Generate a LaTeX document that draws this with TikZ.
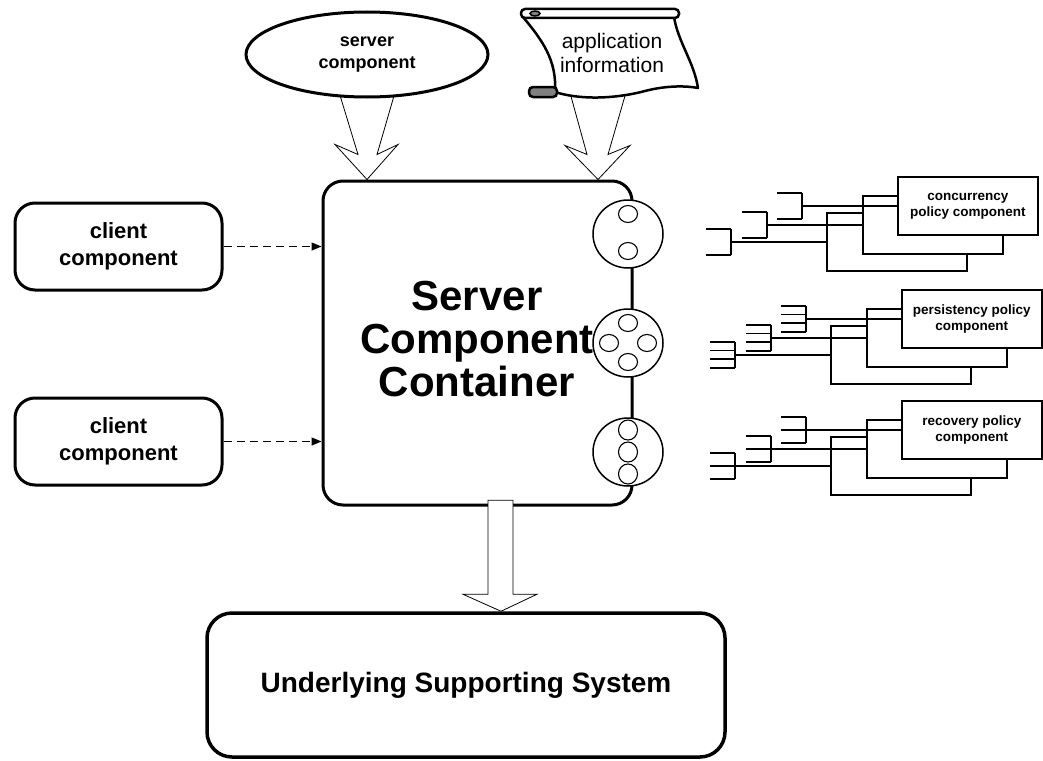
\documentclass[tikz,border=0pt]{standalone}
\usepackage{fontspec}
\setmainfont{Liberation Sans}
\usetikzlibrary{arrows.meta,shapes.geometric,backgrounds}

\tikzset{
  fatbox/.style={draw, line width=3pt, rounded corners=20pt, fill=white, inner sep=0pt, align=center},
  polbox/.style={draw, line width=1.6pt, fill=white, minimum width=140pt, minimum height=58pt, inner sep=0pt, align=center, font=\fontsize{13.5}{16}\selectfont\bfseries},
  hollow/.style={draw, line width=0.8pt, fill=white, line join=miter},
  port/.style={draw, ellipse, line width=1.5pt, fill=white, minimum width=70pt, minimum height=68pt, inner sep=0pt},
  hole/.style={line width=1.1pt},
  calls/.style={dash pattern=on 8pt off 5pt, line width=1.2pt, -{Triangle[length=10pt,width=8pt]}},
  fork/.style={line width=1.6pt}
}

\begin{document}
\begin{tikzpicture}[x=1pt, y=-1pt]
\useasboundingbox (0,0) rectangle (1043,760);

% the container in the middle
\node[fatbox, minimum width=309pt, minimum height=324pt] (scc) at (477.5,343) {};
\node[align=center, font=\fontsize{42}{43}\selectfont\bfseries] (scctext) at (477,339) {Server\\Component\\Container};

% inputs on top
\node[draw, ellipse, line width=3pt, fill=white, minimum width=242pt, minimum height=85pt, inner sep=0pt, align=center, font=\fontsize{18}{22}\selectfont\bfseries] (srv) at (367,54.5) {server\\component};

\draw[line width=2.5pt, fill=white, line join=round] (523,17) .. controls (542,40) and (557,60) .. (555,92) .. controls (580,100) and (615,99) .. (645,91) .. controls (668,85) and (688,86) .. (698,88) .. controls (694,62) and (678,42) .. (674,17) -- cycle;
\draw[line width=2.5pt, fill=white, rounded corners=4pt] (521,9) rectangle (679,18);
\draw[line width=1.5pt, fill=gray] (535,13.5) ellipse (5pt and 2.5pt);
\draw[line width=2.5pt, fill=gray, rounded corners=4pt] (529,87) rectangle (557,97);
\node[align=center, font=\fontsize{21}{24}\selectfont] (app) at (612,53) {application\\information};

\begin{scope}[on background layer]
\draw[hollow, shift={(srv.south |- scc.north)}] (0,0) -- (-32,-35) -- (-9,-25) -- (-30,-94) -- (30,-94) -- (10,-25) -- (31,-35) -- cycle;
\draw[hollow, shift={([xshift=-14pt]app.south |- scc.north)}] (0,0) -- (-33,-34) -- (-11,-25) -- (-30,-94) -- (30,-94) -- (10,-25) -- (32,-34) -- cycle;
\end{scope}

% ports
\node[port] (portA) at (628,234) {};
\draw[hole] (portA.center) ++(0,-20) ellipse (9.5pt and 8.5pt);
\draw[hole] (portA.center) ++(0,17) ellipse (9.5pt and 8.5pt);
\node[port] (portB) at (628,343) {};
\draw[hole] (portB.center) ++(0,-20) ellipse (9.5pt and 8.5pt);
\draw[hole] (portB.center) ++(0,19) ellipse (9.5pt and 8.5pt);
\draw[hole] (portB.center) ++(-19,0) ellipse (9.5pt and 8.5pt);
\draw[hole] (portB.center) ++(19,0) ellipse (9.5pt and 8.5pt);
\node[port] (portC) at (628,452) {};
\draw[hole] (portC.center) ++(0,-22) ellipse (9.5pt and 10pt);
\draw[hole] (portC.center) ++(0,0) ellipse (9.5pt and 10pt);
\draw[hole] (portC.center) ++(0,22) ellipse (9.5pt and 10pt);

% the system below
\node[fatbox, rounded corners=25pt, line width=3.5pt, minimum width=518pt, minimum height=144pt, font=\fontsize{28}{32}\selectfont\bfseries] (uss) at (466,685) {Underlying Supporting System};
\draw[hollow, shift={([xshift=23.5pt]scc.south |- uss.north)}] (0,0) -- (-38,-17) -- (-13,-17) -- (-13,-111) -- (12,-111) -- (12,-17) -- (36,-17) -- cycle;

% clients
\node[fatbox, minimum width=207pt, minimum height=87pt, font=\fontsize{22}{27}\selectfont\bfseries] (cc1) at (118.5,246.5) {client\\component};
\node[fatbox, minimum width=207pt, minimum height=87pt, font=\fontsize{22}{27}\selectfont\bfseries] (cc2) at (118.5,441.5) {client\\component};
\draw[calls] (cc1.east) -- (cc1.east -| scc.west);
\draw[calls] (cc2.east) -- (cc2.east -| scc.west);

% policy components
\foreach \gx/\gy/\n/\lbl [count=\g] in {897/176/2/{concurrency\\policy component}, 901/289/4/{persistency policy\\component}, 901/400/3/{recovery policy\\component}}{
  \node[polbox, anchor=north west] (pc\g) at ({\gx-71},{\gy+36}) {};
  \node[polbox, anchor=north west] (pb\g) at ({\gx-35},{\gy+19}) {};
  \node[polbox, anchor=north west] (pa\g) at (\gx,\gy) {\lbl};
  \foreach \b in {a,b,c}{
    \coordinate (f\b\g) at ([xshift=-95pt]p\b\g.west);
    \draw[fork] (p\b\g.west) -- (f\b\g);
    \draw[fork] (f\b\g) ++(0,-13) -- ++(0,26);
    \foreach \i in {1,...,\n}
      \draw[fork] (f\b\g) ++(0,{-13+(\i-1)*26/(\n-1)}) -- ++(-25,0);
  }
}
\end{tikzpicture}
\end{document}
